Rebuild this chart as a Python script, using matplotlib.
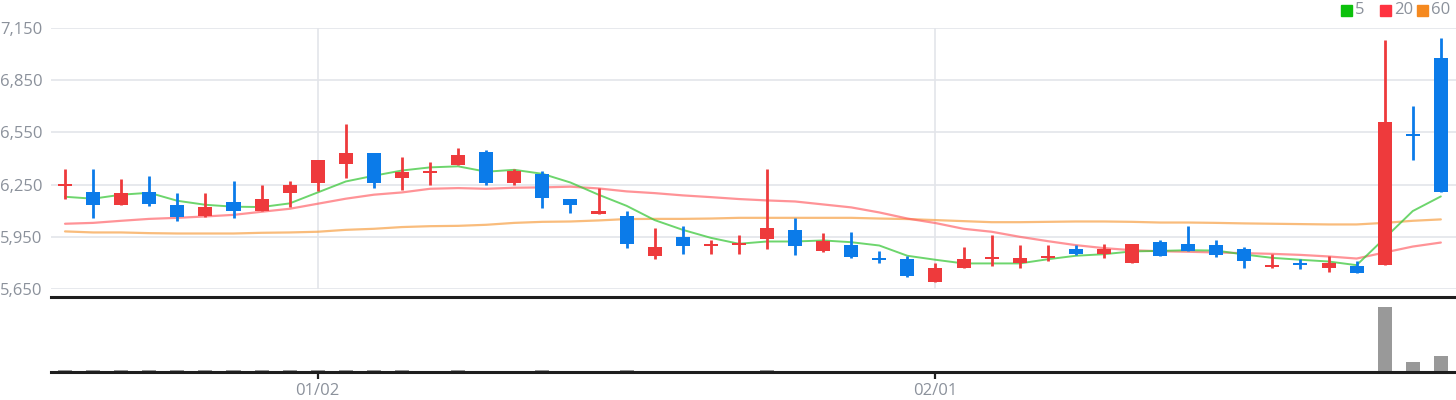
import matplotlib
matplotlib.use("Agg")
import matplotlib.pyplot as plt
import numpy as np

# ---------------- data ----------------
dates = ["12/19", "12/20", "12/21", "12/22", "12/23", "12/26", "12/27", "12/28", "12/29", "01/02",
         "01/03", "01/04", "01/05", "01/06", "01/09", "01/10", "01/11", "01/12", "01/13", "01/16",
         "01/17", "01/18", "01/19", "01/20", "01/23", "01/24", "01/25", "01/26", "01/27", "01/30",
         "01/31", "02/01", "02/02", "02/03", "02/06", "02/07", "02/08", "02/09", "02/10", "02/13",
         "02/14", "02/15", "02/16", "02/17", "02/20", "02/21", "02/22", "02/23", "02/24", "02/27"]

opens  = [6245, 6210, 6135, 6210, 6135, 6070, 6150, 6100, 6200, 6260,
          6370, 6430, 6290, 6320, 6365, 6440, 6260, 6310, 6170, 6080,
          6070, 5840, 5950, 5900, 5905, 5935, 5990, 5870, 5905, 5825,
          5825, 5690, 5772, 5825, 5800, 5832, 5880, 5852, 5800, 5920,
          5910, 5905, 5880, 5780, 5797, 5772, 5783, 5790, 6540, 6980]
highs  = [6341, 6341, 6284, 6301, 6203, 6203, 6272, 6249, 6272, 6393,
          6600, 6433, 6410, 6381, 6462, 6450, 6341, 6330, 6169, 6232,
          6100, 6002, 6013, 5933, 5961, 6341, 6059, 5973, 5979, 5869,
          5841, 5800, 5892, 5961, 5904, 5904, 5904, 5910, 5910, 5933,
          6013, 5933, 5892, 5852, 5823, 5841, 5812, 7083, 6703, 7094]
lows   = [6169, 6059, 6134, 6128, 6042, 6065, 6059, 6100, 6123, 6215,
          6289, 6232, 6220, 6249, 6364, 6249, 6249, 6117, 6088, 6082,
          5887, 5823, 5852, 5852, 5852, 5881, 5846, 5864, 5829, 5800,
          5720, 5691, 5772, 5783, 5772, 5812, 5846, 5829, 5800, 5841,
          5869, 5835, 5772, 5772, 5766, 5749, 5743, 5789, 6393, 6209]
closes = [6250, 6130, 6200, 6140, 6065, 6120, 6100, 6170, 6245, 6390,
          6430, 6260, 6320, 6325, 6420, 6260, 6330, 6175, 6130, 6100,
          5910, 5890, 5900, 5905, 5910, 6000, 5900, 5925, 5835, 5820,
          5725, 5770, 5823, 5830, 5830, 5836, 5852, 5880, 5910, 5841,
          5870, 5846, 5812, 5785, 5793, 5800, 5743, 6610, 6535, 6210]

ma5  = [6180, 6169, 6192, 6203, 6157, 6134, 6123, 6121, 6142, 6205,
        6268, 6301, 6331, 6349, 6355, 6324, 6335, 6312, 6262, 6192,
        6128, 6046, 5990, 5944, 5910, 5923, 5923, 5929, 5919, 5900,
        5841, 5818, 5797, 5797, 5797, 5821, 5841, 5850, 5866, 5869,
        5873, 5871, 5848, 5829, 5818, 5808, 5787, 5942, 6098, 6182]
ma20 = [6025, 6030, 6042, 6053, 6059, 6067, 6076, 6094, 6111, 6140,
        6169, 6192, 6205, 6226, 6230, 6226, 6232, 6234, 6238, 6228,
        6211, 6201, 6188, 6178, 6167, 6159, 6153, 6136, 6119, 6090,
        6055, 6029, 5996, 5979, 5950, 5925, 5902, 5885, 5873, 5867,
        5864, 5860, 5856, 5852, 5846, 5837, 5825, 5860, 5894, 5917]
ma60 = [5981, 5975, 5975, 5971, 5969, 5969, 5969, 5973, 5975, 5979,
        5990, 5996, 6006, 6011, 6013, 6019, 6030, 6036, 6038, 6044,
        6052, 6053, 6053, 6055, 6059, 6059, 6059, 6059, 6059, 6055,
        6052, 6046, 6040, 6034, 6034, 6036, 6038, 6038, 6036, 6032,
        6032, 6030, 6027, 6025, 6023, 6021, 6021, 6030, 6042, 6050]

volumes = [180, 180, 180, 180, 180, 180, 180, 180, 180, 180,
           180, 180, 180, 40, 180, 40, 40, 180, 40, 40,
           180, 40, 40, 40, 40, 180, 40, 40, 40, 40,
           40, 40, 40, 40, 40, 40, 40, 40, 40, 40,
           40, 40, 40, 40, 40, 40, 40, 6500, 1050, 1650]

price_ticks = [5650, 5950, 6250, 6550, 6850, 7150]
date_ticks = ["01/02", "02/01"]
legend_labels = ["5", "20", "60"]

# ---------------- style ----------------
UP = "#ee3a3c"
DOWN = "#0b7be9"
GRID = "#e3e5ea"
TXT = "#8b919b"
FONT = ["Open Sans", "DejaVu Sans"]
plt.rcParams["font.family"] = FONT

W, H = 1456, 400
fig = plt.figure(figsize=(W / 100, H / 100), dpi=100)

def box(left, top, right, bottom):
    return [left / W, 1 - bottom / H, (right - left) / W, (bottom - top) / H]

ax = fig.add_axes(box(51, 28, 1456, 289))
axv = fig.add_axes(box(51, 297, 1456, 372), sharex=ax)

x = np.arange(len(opens))
o = np.array(opens, float)
c = np.array(closes, float)
hi = np.array(highs, float)
lo = np.array(lows, float)
colors = [UP if cc >= oo else DOWN for oo, cc in zip(o, c)]

# grid
for t in price_ticks:
    ax.axhline(t, color=GRID, lw=1.2, zorder=0)
for lbl in date_ticks:
    ax.axvline(dates.index(lbl), color=GRID, lw=1.2, zorder=0)

# MAs
ax.plot(x, ma60, color="#f7a650", lw=1.6, alpha=0.75, zorder=1, solid_capstyle="round")
ax.plot(x, ma20, color="#ff5a60", lw=1.6, alpha=0.65, zorder=1, solid_capstyle="round")
ax.plot(x, ma5, color="#3cc83c", lw=1.4, alpha=0.75, zorder=1, solid_capstyle="round")

# candles
ax.vlines(x, lo, hi, colors=colors, lw=2.0, zorder=3)
bottoms = np.minimum(o, c)
heights = np.maximum(np.abs(c - o), 11)
bottoms = np.where(np.abs(c - o) < 11, (o + c) / 2 - 5.5, bottoms)
ax.bar(x, heights, bottom=bottoms, width=0.5, color=colors, zorder=4, linewidth=0)

ax.set_xlim(-0.5, 49.54)
ax.set_ylim(5650, 7150)
ax.set_yticks(price_ticks)
ax.set_yticklabels([f"{t:,}" for t in price_ticks])
ax.tick_params(axis="y", length=0, pad=6, labelsize=12, labelcolor=TXT)
ax.tick_params(axis="x", length=0, labelbottom=False)
for s in ax.spines.values():
    s.set_visible(False)
ax.set_facecolor("none")

# volume
axv.bar(x, volumes, width=0.5, color="#999999", linewidth=0, zorder=1)
axv.set_ylim(0, 7500)
axv.set_yticks([])
for k in ["left", "right"]:
    axv.spines[k].set_visible(False)
for k in ["top", "bottom"]:
    axv.spines[k].set_color("#1e1e1e")
    axv.spines[k].set_linewidth(2.2)
axv.set_xticks([dates.index(d) for d in date_ticks])
axv.set_xticklabels(date_ticks)
axv.tick_params(axis="x", length=5, width=1.6, color="#1e1e1e", pad=3,
                labelsize=12, labelcolor=TXT)
axv.set_facecolor("none")

# legend
leg_colors = ["#0cc10c", "#ff3340", "#f5891f"]
sq_x = [1341, 1380, 1417]
for lx, col, lab in zip(sq_x, leg_colors, legend_labels):
    fig.patches.append(plt.Rectangle((lx / W, 1 - 16 / H), 11 / W, 11 / H,
                                     transform=fig.transFigure, color=col))
    fig.text((lx + 14) / W, 1 - 10.5 / H, lab, color=TXT, fontsize=12,
             ha="left", va="center")

fig.savefig("out.png", dpi=100)
